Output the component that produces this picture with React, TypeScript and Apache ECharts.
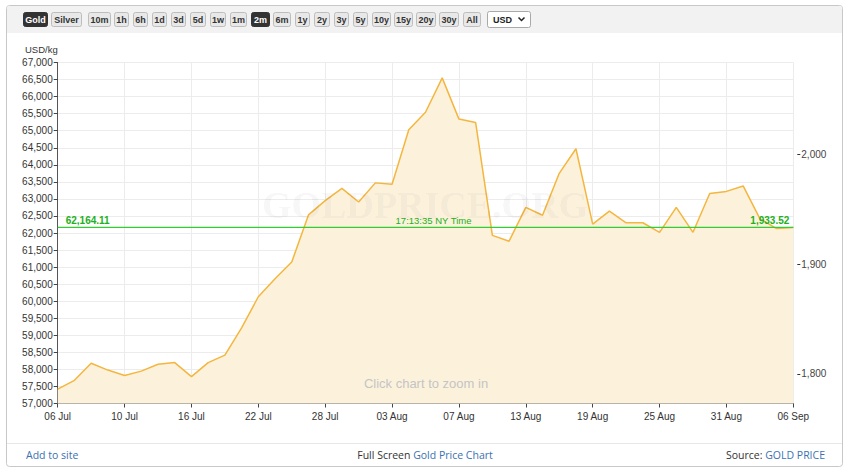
import React, { useEffect, useRef } from "react";
import * as echarts from "echarts";

// ---- data ----
const categories = [
  "06 Jul", "07 Jul", "08 Jul", "09 Jul", "10 Jul",
  "13 Jul", "14 Jul", "15 Jul", "16 Jul", "17 Jul",
  "20 Jul", "21 Jul", "22 Jul", "23 Jul", "24 Jul",
  "27 Jul", "28 Jul", "29 Jul", "30 Jul", "31 Jul",
  "03 Aug", "04 Aug", "05 Aug", "06 Aug", "07 Aug",
  "10 Aug", "11 Aug", "12 Aug", "13 Aug", "14 Aug",
  "17 Aug", "18 Aug", "19 Aug", "20 Aug", "21 Aug",
  "24 Aug", "25 Aug", "26 Aug", "27 Aug", "28 Aug",
  "31 Aug", "01 Sep", "02 Sep", "03 Sep", "04 Sep",
];
const pricesUsdKg = [
  57420, 57680, 58180, 57980, 57820,
  57950, 58150, 58200, 57790, 58200,
  58420, 59220, 60130, 60660, 61150,
  62530, 62950, 63310, 62910, 63470,
  63430, 65030, 65540, 66550, 65340,
  65240, 61930, 61760, 62750, 62520,
  63750, 64470, 62260, 62640, 62300,
  62300, 62020, 62750, 62020, 63160,
  63220, 63380, 62420, 62130, 62164.11,
];
const xTickLabels = [
  "06 Jul", "10 Jul", "16 Jul", "22 Jul", "28 Jul", "03 Aug",
  "07 Aug", "13 Aug", "19 Aug", "25 Aug", "31 Aug", "06 Sep",
];
const usdOzTicks = [1800, 1900, 2000];
const currentPrice = 62164.11;
const currentPriceOz = 1933.52;
const currentTime = "17:13:35 NY Time";
const ozPerKg = 32.1507;
const metalButtons = ["Gold", "Silver"];
const rangeButtons = ["10m", "1h", "6h", "1d", "3d", "5d", "1w", "1m", "2m", "6m", "1y", "2y", "3y", "5y", "10y", "15y", "20y", "30y", "All"];
const activeButtons = ["Gold", "2m"];

// ---- layout (not data) ----
const buttonSpans: [number, number][] = [
  [23, 47], [51, 81],
  [88, 110], [114, 128], [133, 147], [152, 166], [171, 185], [190, 205], [210, 225],
  [230, 246], [251, 269], [273, 290], [295, 309], [314, 329], [334, 348], [353, 367],
  [372, 390], [394, 412], [416, 435], [439, 458], [463, 480],
];

const FONT = '"Liberation Sans", Arial, sans-serif';
const fmt = (v: number, d = 0) =>
  v.toLocaleString("en-US", { minimumFractionDigits: d, maximumFractionDigits: d });

function buildGraphics() {
  const els: any[] = [];
  // card
  els.push({ type: "rect", z: -10, shape: { x: 6.5, y: 5.5, width: 836, height: 461, r: 3 }, style: { fill: "#fff", stroke: "#c8c8c8", lineWidth: 1 } });
  els.push({ type: "rect", z: -9, shape: { x: 7, y: 6, width: 835, height: 27, r: [2, 2, 0, 0] }, style: { fill: "#f2f2f2" } });
  els.push({ type: "line", z: -9, shape: { x1: 7, y1: 443.5, x2: 842, y2: 443.5 }, style: { stroke: "#e8e8e8", lineWidth: 1 } });
  const labels = [...metalButtons, ...rangeButtons];
  labels.forEach((t, i) => {
    const [a, b] = buttonSpans[i];
    const active = activeButtons.includes(t);
    els.push({ type: "rect", shape: { x: a + 0.5, y: 12.5, width: b - a, height: 14, r: 2 }, style: { fill: active ? "#333" : "#e8e8e8", stroke: active ? "#333" : "#bdbdbd", lineWidth: 1 } });
    els.push({ type: "text", x: (a + b) / 2 + 0.5, y: 19.5, style: { text: t, fill: active ? "#fff" : "#333", font: `bold 9px ${FONT}`, align: "center", verticalAlign: "middle", textAlign: "center", textVerticalAlign: "middle" } });
  });
  // USD select
  els.push({ type: "rect", shape: { x: 487.5, y: 11.5, width: 43, height: 16, r: 2 }, style: { fill: "#fff", stroke: "#a9a9a9", lineWidth: 1 } });
  els.push({ type: "text", x: 493, y: 19.5, style: { text: "USD", fill: "#222", font: `bold 9px ${FONT}`, align: "left", verticalAlign: "middle", textAlign: "left", textVerticalAlign: "middle" } });
  els.push({ type: "polyline", shape: { points: [[518.5, 17.5], [521.5, 20.5], [524.5, 17.5]] }, style: { stroke: "#222", lineWidth: 1.5, fill: null } });
  // unit
  els.push({ type: "text", x: 25, y: 49, style: { text: "USD/kg", fill: "#333", font: `9.5px ${FONT}`, align: "left", verticalAlign: "middle", textAlign: "left", textVerticalAlign: "middle" } });
  // watermark
  els.push({ type: "text", z: 50, x: 425, y: 205, style: { text: "GOLDPRICE.ORG", fill: "rgba(0,0,0,0.05)", font: `bold 38px "Liberation Serif", serif`, align: "center", verticalAlign: "middle", textAlign: "center", textVerticalAlign: "middle" } });
  els.push({ type: "text", z: 50, x: 426, y: 383, style: { text: "Click chart to zoom in", fill: "#c4c4c4", font: `13px ${FONT}`, align: "center", verticalAlign: "middle", textAlign: "center", textVerticalAlign: "middle" } });
  // footer
  const FF = '"Open Sans", sans-serif';
  els.push({ type: "text", x: 26, y: 454.5, style: { text: "Add to site", fill: "#3a72b0", font: `10.5px ${FF}`, align: "left", verticalAlign: "middle", textAlign: "left", textVerticalAlign: "middle" } });
  els.push({ type: "text", x: 425, y: 454.5, style: { text: "{a|Full Screen }{b|Gold Price Chart}", rich: { a: { fill: "#333", font: `10.5px ${FF}` }, b: { fill: "#3a72b0", font: `10.5px ${FF}` } }, font: `10.5px ${FF}`, align: "center", verticalAlign: "middle", textAlign: "center", textVerticalAlign: "middle" } });
  els.push({ type: "text", x: 825, y: 454.5, style: { text: "{a|Source: }{b|GOLD PRICE}", rich: { a: { fill: "#333", font: `10.5px ${FF}` }, b: { fill: "#3a72b0", font: `10.5px ${FF}` } }, font: `10.5px ${FF}`, align: "right", verticalAlign: "middle", textAlign: "right", textVerticalAlign: "middle" } });
  return els;
}

export default function App() {
  const ref = useRef<HTMLDivElement>(null);
  useEffect(() => {
    if (!ref.current) return;
    const chart = echarts.init(ref.current, undefined, { renderer: "svg" });
    const every4 = (i: number) => i % 4 === 0;
    const green = "#33cc33";
    const labelGreen = "#22b022";
    const lastIdx = categories.length - 1;
    const midIdx = Math.floor(lastIdx / 2);
    const ptLabel = (formatter: string, align: string, offsetX: number, bold: boolean) => ({
      show: true,
      formatter,
      position: "top",
      distance: 2,
      align,
      offset: [offsetX, 0],
      color: labelGreen,
      fontSize: bold ? 10 : 9.5,
      fontWeight: bold ? "bold" : "normal",
    });
    const option: any = {
      animation: false,
      textStyle: { fontFamily: FONT },
      grid: { left: 57.7, top: 62.5, width: 735.6, height: 341, containLabel: false },
      xAxis: {
        type: "category",
        data: categories,
        boundaryGap: false,
        axisLine: { lineStyle: { color: "#777" } },
        axisTick: { interval: every4, length: 4, lineStyle: { color: "#444" } },
        axisLabel: {
          interval: every4,
          margin: 8,
          color: "#333",
          fontSize: 10,
          formatter: (_v: string, i: number) => xTickLabels[i / 4] ?? "",
        },
        splitLine: { show: true, interval: every4, lineStyle: { color: "#ececec" } },
      },
      yAxis: [
        {
          type: "value",
          min: 57000,
          max: 67000,
          interval: 500,
          position: "left",
          axisLine: { show: true, lineStyle: { color: "#555" } },
          axisTick: { show: true, length: 4, lineStyle: { color: "#444" } },
          axisLabel: { margin: 5, color: "#333", fontSize: 10, formatter: (v: number) => fmt(v) },
          splitLine: { show: true, lineStyle: { color: "#ececec" } },
        },
        {
          type: "value",
          min: 57000 / ozPerKg,
          max: 67000 / ozPerKg,
          position: "right",
          offset: 4,
          axisLine: { show: false },
          axisTick: { show: true, length: 3, customValues: usdOzTicks, lineStyle: { color: "#333" } },
          axisLabel: { margin: 4, color: "#444", fontSize: 10, customValues: usdOzTicks, formatter: (v: number) => fmt(v) },
          splitLine: { show: false },
        },
      ],
      series: [
        {
          type: "line",
          data: pricesUsdKg,
          yAxisIndex: 0,
          symbol: "none",
          itemStyle: { color: "#f4b63e" },
          lineStyle: { color: "#f4b63e", width: 1.5 },
          areaStyle: { color: "#fcf2dc", opacity: 1 },
          z: 2,
        },
        {
          type: "line",
          name: "current",
          yAxisIndex: 0,
          data: [[0, currentPrice], [lastIdx, currentPrice]],
          symbol: "none",
          silent: true,
          z: 5,
          emphasis: { disabled: true },
          itemStyle: { color: green },
          lineStyle: { color: green, width: 1.2, type: "solid", opacity: 1 },
          markPoint: {
            silent: true,
            symbol: "circle",
            symbolSize: 0,
            itemStyle: { color: "rgba(0,0,0,0)" },
            data: [
              { coord: [0, currentPrice], label: ptLabel(fmt(currentPrice, 2), "left", 8, true) },
              { coord: [midIdx, currentPrice], label: ptLabel(currentTime, "center", 8, false) },
              { coord: [lastIdx, currentPrice], label: ptLabel(fmt(currentPriceOz, 2), "right", -4, true) },
            ],
          },
        },
        {
          type: "line",
          yAxisIndex: 1,
          data: [],
        },
      ],
      graphic: { elements: buildGraphics() },
    };
    chart.setOption(option);
    return () => chart.dispose();
  }, []);
  return (
    <div
      ref={ref}
      style={{ position: "absolute", left: 0, top: 0, width: 850, height: 473, background: "#fff" }}
    />
  );
}
